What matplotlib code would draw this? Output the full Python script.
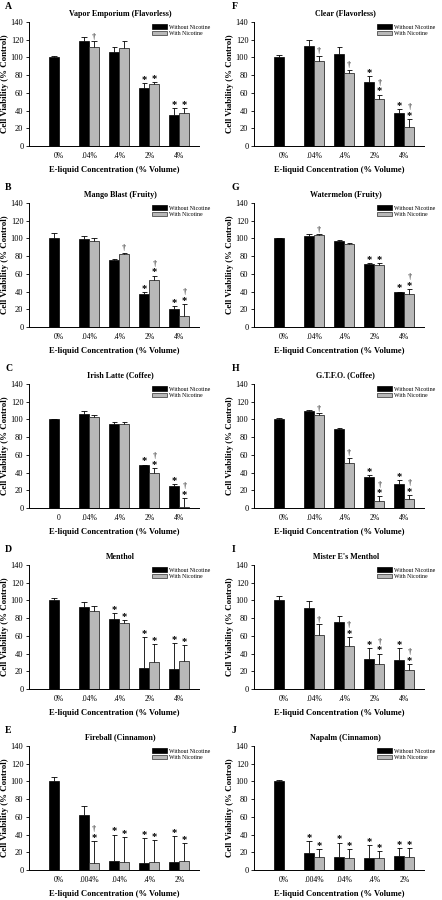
import numpy as np
import matplotlib
matplotlib.use("Agg")
import matplotlib.pyplot as plt
from matplotlib.patches import Patch

plt.rcParams['font.family'] = ['Liberation Serif', 'DejaVu Serif']

NAN = np.nan

# ---------------- data ----------------
conc_std = ["0%", ".04%", ".4%", "2%", "4%"]
conc_c = ["0", ".04%", ".4%", "2%", "4%"]
conc_cin = ["0%", ".004%", ".04%", ".4%", "2%"]

# A Vapor Emporium
A_title = "Vapor Emporium (Flavorless)"
A_black = [100, 118, 106, 65, 35]
A_black_err = [2, 5, 6, 6, 8]
A_gray = [NAN, 112, 111, 70, 37]
A_gray_err = [NAN, 6, 7, 2, 6]
A_black_sig = ["", "", "", "*", "*"]
A_gray_sig = ["", "†", "", "*", "*"]

# B Mango Blast
B_title = "Mango Blast (Fruity)"
B_black = [100, 99, 76, 37, 20]
B_black_err = [6, 4, 1, 2, 4]
B_gray = [NAN, 97, 82, 53, 12]
B_gray_err = [NAN, 3, 2, 5, 14]
B_black_sig = ["", "", "", "*", "*"]
B_gray_sig = ["", "", "†", "*†", "*†"]

# C Irish Latte
C_title = "Irish Latte (Coffee)"
C_black = [100, 106, 95, 48, 25]
C_black_err = [1, 4, 2, 1, 2]
C_gray = [NAN, 103, 95, 40, 1]
C_gray_err = [NAN, 2, 2, 5, 10]
C_black_sig = ["", "", "", "*", "*"]
C_gray_sig = ["", "", "", "*†", "*†"]

# D Menthol
D_title = "Menthol"
D_black = [100, 93, 79, 24, 23]
D_black_err = [3, 5, 7, 35, 29]
D_gray = [NAN, 88, 74, 31, 32]
D_gray_err = [NAN, 6, 4, 20, 18]
D_black_sig = ["", "", "*", "*", "*"]
D_gray_sig = ["", "", "*", "*", "*"]

# E Fireball
E_title = "Fireball (Cinnamon)"
E_black = [100, 62, 10, 8, 9]
E_black_err = [5, 10, 30, 28, 29]
E_gray = [NAN, 8, 9, 9, 10]
E_gray_err = [NAN, 25, 28, 25, 20]
E_black_sig = ["", "", "*", "*", "*"]
E_gray_sig = ["", "*†", "*", "*", "*"]

# F Clear
F_title = "Clear (Flavorless)"
F_black = [100, 113, 104, 72, 37]
F_black_err = [3, 7, 8, 7, 5]
F_gray = [NAN, 96, 82, 53, 22]
F_gray_err = [NAN, 6, 4, 5, 8]
F_black_sig = ["", "", "", "*", "*"]
F_gray_sig = ["", "†", "†", "*†", "*†"]

# G Watermelon
G_title = "Watermelon (Fruity)"
G_black = [100, 103, 97, 71, 39]
G_black_err = [1, 2, 1, 1, 1]
G_gray = [NAN, 104, 94, 70, 37]
G_gray_err = [NAN, 1, 0.5, 2, 6]
G_black_sig = ["", "", "", "*", "*"]
G_gray_sig = ["", "†", "", "*", "*†"]

# H G.T.F.O.
H_title = "G.T.F.O. (Coffee)"
H_black = [100, 109, 89, 35, 27]
H_black_err = [2, 2, 1, 2, 5]
H_gray = [NAN, 105, 51, 8, 10]
H_gray_err = [NAN, 2, 6, 5, 5]
H_black_sig = ["", "", "", "*", "*"]
H_gray_sig = ["", "†", "†", "*†", "*†"]

# I Mister E's Menthol
I_title = "Mister E's Menthol"
I_black = [100, 92, 76, 34, 33]
I_black_err = [5, 7, 6, 12, 13]
I_gray = [NAN, 61, 48, 28, 22]
I_gray_err = [NAN, 12, 11, 12, 6]
I_black_sig = ["", "", "", "*", "*"]
I_gray_sig = ["", "†", "*†", "*†", "*†"]

# J Napalm
J_title = "Napalm (Cinnamon)"
J_black = [100, 19, 15, 13, 16]
J_black_err = [2, 14, 16, 15, 9]
J_gray = [NAN, 15, 13, 14, 15]
J_gray_err = [NAN, 9, 11, 7, 10]
J_black_sig = ["", "*", "*", "*", "*"]
J_gray_sig = ["", "*", "*", "*", "*"]

panels = [
    ("A", A_title, conc_std, A_black, A_black_err, A_gray, A_gray_err, A_black_sig, A_gray_sig),
    ("B", B_title, conc_std, B_black, B_black_err, B_gray, B_gray_err, B_black_sig, B_gray_sig),
    ("C", C_title, conc_c, C_black, C_black_err, C_gray, C_gray_err, C_black_sig, C_gray_sig),
    ("D", D_title, conc_std, D_black, D_black_err, D_gray, D_gray_err, D_black_sig, D_gray_sig),
    ("E", E_title, conc_cin, E_black, E_black_err, E_gray, E_gray_err, E_black_sig, E_gray_sig),
    ("F", F_title, conc_std, F_black, F_black_err, F_gray, F_gray_err, F_black_sig, F_gray_sig),
    ("G", G_title, conc_std, G_black, G_black_err, G_gray, G_gray_err, G_black_sig, G_gray_sig),
    ("H", H_title, conc_std, H_black, H_black_err, H_gray, H_gray_err, H_black_sig, H_gray_sig),
    ("I", I_title, conc_std, I_black, I_black_err, I_gray, I_gray_err, I_black_sig, I_gray_sig),
    ("J", J_title, conc_cin, J_black, J_black_err, J_gray, J_gray_err, J_black_sig, J_gray_sig),
]

# ---------------- layout ----------------
W, H = 442, 900
fig = plt.figure(figsize=(W / 100, H / 100), dpi=100)

GRAY = "#b8b8b8"
BW = 1 / 3
CAP = 0.09


def draw_errs(ax, xs, means, errs):
    for x, m, e in zip(xs, means, errs):
        if np.isnan(m):
            continue
        ax.vlines(x, m, m + e, color="black", lw=0.6, zorder=3)
        ax.hlines(m + e, x - CAP, x + CAP, color="black", lw=0.6, zorder=3)


def draw_sig(ax, xs, means, errs, sigs):
    for x, m, e, s in zip(xs, means, errs, sigs):
        if not s or np.isnan(m):
            continue
        y = m + e + 0.5
        if "*" in s:
            ax.text(x, y - 1.5, "*", ha="center", va="bottom", fontsize=7.5,
                    fontweight="bold", zorder=4)
            y += 8.5
        if "†" in s:
            ax.text(x, y, "†", ha="center", va="bottom", fontsize=6, zorder=4)


for idx, (letter, title, cats, bl, ble, gr, gre, bls, grs) in enumerate(panels):
    col = idx // 5
    row = idx % 5
    left_px = 29 if col == 0 else 254
    width_px = 170
    bottom_px = 146 + 181 * row
    top_px = 22 + 181 * row
    ax = fig.add_axes([left_px / W, 1 - bottom_px / H, width_px / W, (bottom_px - top_px) / H])

    x = np.arange(len(cats))
    bl = np.array(bl, float)
    gr = np.array(gr, float)
    ax.bar(x - BW / 2, bl, BW, color="black", edgecolor="black", lw=0.5, zorder=2,
           label="Without Nicotine")
    ax.bar(x + BW / 2, gr, BW, color=GRAY, edgecolor="#303030", lw=0.6, zorder=2,
           label="With Nicotine")
    draw_errs(ax, x - BW / 2, bl, ble)
    draw_errs(ax, x + BW / 2, gr, gre)
    draw_sig(ax, x - BW / 2, bl, ble, bls)
    draw_sig(ax, x + BW / 2, gr, gre, grs)

    ax.set_xlim(-1.0, 4.65)
    ax.set_ylim(0, 140)
    ax.set_yticks(np.arange(0, 141, 20))
    ax.set_xticks(x)
    ax.set_xticklabels(cats, fontsize=5.5)
    ax.tick_params(axis="y", labelsize=6, length=2.5, width=0.6, pad=1.5, direction="out")
    ax.tick_params(axis="x", length=0, pad=4)
    for s in ("top", "right"):
        ax.spines[s].set_visible(False)
    for s in ("left", "bottom"):
        ax.spines[s].set_linewidth(0.7)

    ax.set_ylabel("Cell Viability (% Control)", fontsize=6.4, fontweight="bold", labelpad=1.5)
    ax.set_xlabel("E-liquid Concentration (% Volume)", fontsize=6.1, fontweight="bold", labelpad=4.5)
    ax.text(0.54, 1.035, title, transform=ax.transAxes, ha="center", va="bottom",
            fontsize=5.8, fontweight="bold")

    handles = [Patch(facecolor="black", edgecolor="black", lw=0.5),
               Patch(facecolor=GRAY, edgecolor="#303030", lw=0.5)]
    ax.legend(handles, ["Without Nicotine", "With Nicotine"], loc="upper left",
              bbox_to_anchor=(0.72, 0.985), frameon=False, fontsize=4.2,
              handlelength=2.6, handleheight=0.8, handletextpad=0.4,
              labelspacing=0.15, borderpad=0.1, borderaxespad=0)

    lx = (5 if col == 0 else 232) / W
    fig.text(lx, 1 - (2 + 181 * row) / H, letter, ha="left", va="top",
             fontsize=7, fontweight="bold")

fig.savefig("out.png", dpi=100)
